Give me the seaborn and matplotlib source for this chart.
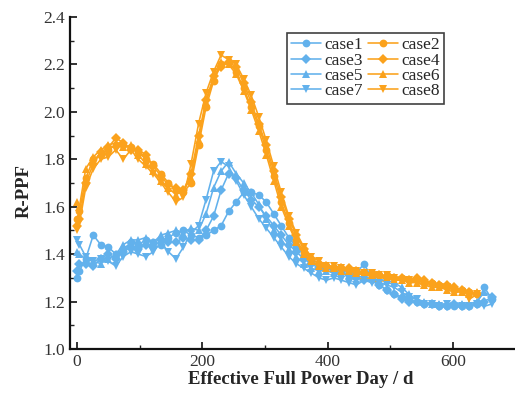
import numpy as np
import pandas as pd
import matplotlib
matplotlib.use("Agg")
import matplotlib.pyplot as plt
from matplotlib.ticker import MultipleLocator, FormatStrFormatter
import seaborn as sns

sns.set_style("ticks")
plt.rcParams["font.family"] = ["Liberation Serif", "DejaVu Serif"]

# Burnup days (EFPD) for each group of cases
days_orange = [0, 4, 14, 26, 38, 50, 62, 74, 86, 98, 110, 122, 134, 146, 158, 170,
               182, 194, 206, 218, 230, 242, 254, 266, 278, 290, 302, 314, 326, 338,
               350, 362, 374, 386, 398, 410, 422, 434, 446, 458, 470, 482, 494, 506,
               518, 530, 542, 554, 566, 578, 590, 602, 614, 626, 638]
days_blue = days_orange + [650, 662]

case1 = [1.30, 1.33, 1.38, 1.48, 1.44, 1.43, 1.40, 1.42, 1.45, 1.44, 1.46, 1.45, 1.44, 1.47,
         1.49, 1.50, 1.48, 1.47, 1.48, 1.50, 1.52, 1.58, 1.62, 1.66, 1.66, 1.65, 1.62, 1.57,
         1.52, 1.47, 1.43, 1.40, 1.37, 1.35, 1.35, 1.34, 1.33, 1.33, 1.32, 1.36, 1.30, 1.27,
         1.25, 1.23, 1.22, 1.21, 1.20, 1.19, 1.19, 1.18, 1.18, 1.18, 1.18, 1.18, 1.19, 1.26, 1.21]
case3 = [1.33, 1.36, 1.36, 1.35, 1.38, 1.40, 1.38, 1.41, 1.43, 1.42, 1.44, 1.43, 1.46, 1.45,
         1.45, 1.47, 1.46, 1.46, 1.50, 1.56, 1.67, 1.74, 1.72, 1.67, 1.63, 1.60, 1.56, 1.52,
         1.48, 1.44, 1.41, 1.38, 1.36, 1.34, 1.34, 1.33, 1.32, 1.31, 1.30, 1.29, 1.29, 1.27,
         1.25, 1.23, 1.21, 1.20, 1.20, 1.19, 1.19, 1.18, 1.18, 1.19, 1.18, 1.18, 1.19, 1.20, 1.22]
case5 = [1.41, 1.40, 1.38, 1.37, 1.36, 1.38, 1.40, 1.44, 1.46, 1.46, 1.47, 1.45, 1.48, 1.49,
         1.50, 1.49, 1.51, 1.50, 1.57, 1.68, 1.75, 1.79, 1.74, 1.70, 1.66, 1.61, 1.55, 1.50,
         1.46, 1.42, 1.39, 1.36, 1.34, 1.33, 1.33, 1.32, 1.32, 1.31, 1.31, 1.30, 1.30, 1.29,
         1.29, 1.28, 1.26, 1.23, 1.21, 1.20, 1.19, 1.19, 1.19, 1.19, 1.19, 1.19, 1.20, 1.24, 1.22]
case7 = [1.46, 1.44, 1.39, 1.37, 1.38, 1.37, 1.35, 1.39, 1.41, 1.40, 1.39, 1.41, 1.45, 1.41,
         1.38, 1.43, 1.49, 1.52, 1.63, 1.75, 1.79, 1.77, 1.71, 1.65, 1.60, 1.55, 1.51, 1.47,
         1.43, 1.39, 1.36, 1.34, 1.32, 1.30, 1.29, 1.30, 1.29, 1.28, 1.27, 1.29, 1.28, 1.28,
         1.27, 1.26, 1.24, 1.22, 1.21, 1.19, 1.19, 1.18, 1.19, 1.18, 1.18, 1.18, 1.19, 1.18, 1.19]

case2 = [1.55, 1.58, 1.72, 1.80, 1.82, 1.84, 1.86, 1.86, 1.85, 1.83, 1.80, 1.78, 1.74, 1.70,
         1.67, 1.66, 1.70, 1.86, 2.02, 2.13, 2.20, 2.21, 2.17, 2.10, 2.02, 1.94, 1.84, 1.73,
         1.62, 1.53, 1.46, 1.41, 1.38, 1.36, 1.35, 1.34, 1.34, 1.33, 1.33, 1.32, 1.32, 1.31,
         1.31, 1.30, 1.30, 1.29, 1.29, 1.28, 1.28, 1.27, 1.26, 1.25, 1.25, 1.24, 1.23]
case4 = [1.52, 1.55, 1.70, 1.78, 1.83, 1.85, 1.89, 1.87, 1.84, 1.84, 1.82, 1.77, 1.73, 1.69,
         1.68, 1.67, 1.74, 1.90, 2.05, 2.15, 2.19, 2.21, 2.19, 2.12, 2.04, 1.95, 1.86, 1.75,
         1.64, 1.55, 1.48, 1.42, 1.38, 1.36, 1.35, 1.34, 1.34, 1.34, 1.33, 1.32, 1.31, 1.31,
         1.30, 1.30, 1.30, 1.29, 1.30, 1.29, 1.28, 1.27, 1.27, 1.26, 1.25, 1.24, 1.23]
case6 = [1.62, 1.60, 1.76, 1.81, 1.84, 1.86, 1.87, 1.85, 1.86, 1.82, 1.78, 1.75, 1.71, 1.68,
         1.65, 1.67, 1.72, 1.88, 2.04, 2.14, 2.21, 2.20, 2.16, 2.09, 2.01, 1.92, 1.82, 1.71,
         1.60, 1.52, 1.45, 1.40, 1.37, 1.35, 1.34, 1.34, 1.33, 1.33, 1.32, 1.31, 1.31, 1.30,
         1.30, 1.29, 1.29, 1.28, 1.28, 1.27, 1.26, 1.26, 1.25, 1.24, 1.24, 1.23, 1.24]
case8 = [1.50, 1.53, 1.68, 1.76, 1.80, 1.81, 1.84, 1.80, 1.84, 1.80, 1.77, 1.74, 1.70, 1.66,
         1.62, 1.64, 1.78, 1.95, 2.08, 2.17, 2.24, 2.22, 2.20, 2.14, 2.07, 1.98, 1.88, 1.77,
         1.66, 1.56, 1.49, 1.43, 1.39, 1.37, 1.35, 1.35, 1.34, 1.33, 1.33, 1.32, 1.32, 1.31,
         1.31, 1.30, 1.29, 1.29, 1.28, 1.27, 1.27, 1.26, 1.26, 1.25, 1.24, 1.21, 1.23]

blue = "#62B1EC"
orange = "#FBA21C"

series = [
    ("case1", days_blue, case1, blue, "o"),
    ("case2", days_orange, case2, orange, "o"),
    ("case3", days_blue, case3, blue, "D"),
    ("case4", days_orange, case4, orange, "D"),
    ("case5", days_blue, case5, blue, "^"),
    ("case6", days_orange, case6, orange, "^"),
    ("case7", days_blue, case7, blue, "v"),
    ("case8", days_orange, case8, orange, "v"),
]

fig, ax = plt.subplots(figsize=(5.15, 3.97), dpi=100)
fig.subplots_adjust(left=0.136, right=1.033, bottom=0.121, top=0.957)

for name, d, v, col, mk in series:
    df = pd.DataFrame({"EFPD": d, "R-PPF": v})
    ms = 4.8 if mk == "D" else 5.6
    sns.lineplot(data=df, x="EFPD", y="R-PPF", ax=ax, color=col, marker=mk,
                 markersize=ms, markeredgewidth=0, linewidth=1.15, label=name,
                 estimator=None, sort=False)

ax.set_xlim(-11, 726)
ax.set_ylim(1.0, 2.4)
ax.xaxis.set_major_locator(MultipleLocator(200))
ax.xaxis.set_minor_locator(MultipleLocator(100))
ax.yaxis.set_major_locator(MultipleLocator(0.2))
ax.yaxis.set_minor_locator(MultipleLocator(0.1))
ax.yaxis.set_major_formatter(FormatStrFormatter("%.1f"))

ax.tick_params(which="major", direction="in", length=5, width=1.3, labelsize=12.5,
               colors="#222222", labelcolor="#333333")
ax.tick_params(which="minor", direction="in", length=3, width=1.0, colors="#222222")
for s in ["top", "right"]:
    ax.spines[s].set_visible(False)
for s in ["left", "bottom"]:
    ax.spines[s].set_linewidth(1.6)
    ax.spines[s].set_color("#111111")

ax.set_xlabel("Effective Full Power Day / d", fontsize=13.5, fontweight="bold", labelpad=1)
ax.set_ylabel("R-PPF", fontsize=13.5, fontweight="bold")
ax.yaxis.set_label_coords(-0.080, 0.475)

# legend filled row by row: case1 case2 / case3 case4 / ...
handles, labels = ax.get_legend_handles_labels()
order = [0, 2, 4, 6, 1, 3, 5, 7]
leg = ax.legend([handles[i] for i in order], [labels[i] for i in order],
                ncol=2, loc="upper left", bbox_to_anchor=(0.470, 0.952),
                frameon=True, fancybox=False, edgecolor="#111111", fontsize=12.5,
                handlelength=1.7, handletextpad=0.2, columnspacing=0.3,
                labelspacing=-0.05, borderpad=0.25, borderaxespad=0)
leg.get_frame().set_linewidth(1.2)

fig.savefig("out.png", dpi=100)
